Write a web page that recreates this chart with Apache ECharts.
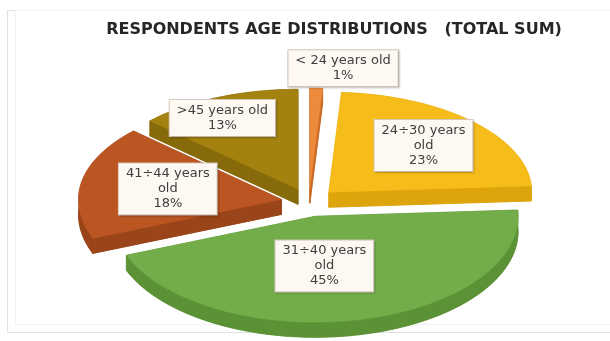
<!DOCTYPE html>
<html>
<head>
<meta charset="utf-8">
<script src="https://cdn.jsdelivr.net/npm/echarts@6/dist/echarts.min.js"></script>
<style>
  html, body { margin: 0; padding: 0; background: #ffffff; }
  #chart { width: 610px; height: 341px; }
</style>
</head>
<body>
<div id="chart"></div>
<script>
// Age groups and their share of respondents (percent)
const categories = ['< 24 years old', '24÷30 years old', '31÷40 years old', '41÷44 years old', '>45 years old'];
const shares = [1, 23, 45, 18, 13];
const titleText = 'RESPONDENTS AGE DISTRIBUTIONS   (TOTAL SUM)';

// Slice colours: top face and side wall
const topColors  = ['#ee8a3c', '#f6bd1a', '#72ad4a', '#bb5622', '#a4820f'];
const sideColors = ['#c96a25', '#dda40c', '#5c9236', '#9a4419', '#876a09'];

// Layout of the tilted pie (the far half is a little flatter than the near half)
const pie = { cx: 309, cy: 202, rx: 203, ryBack: 100, ryFront: 106, depth: 15, explode: 28 };
// Where each label sits along its slice's mid-angle (fraction of radius) plus a small nudge
const labelRadius = [1.13, 0.66, 0.48, 0.55, 0.8];
const labelNudge = [[26, -7], [0, 0], [-12, 0], [-4, 0], [-11, 2]];

const total = shares.reduce((a, b) => a + b, 0);
const rad = d => d * Math.PI / 180;
const ryAt = a => (Math.cos(rad(a)) > 0 ? pie.ryBack : pie.ryFront);

function wrapName(s) {
  if (s.length <= 14) return s;
  const k = s.lastIndexOf(' ');
  return s.slice(0, k) + '\n' + s.slice(k + 1);
}

function sliceAngles(i) {
  let start = 0;
  for (let k = 0; k < i; k++) start += shares[k] / total * 360;
  return [start, start + shares[i] / total * 360];
}

// Painting order: slices further back are drawn first
const ranks = (() => {
  const mids = shares.map((_, i) => { const a = sliceAngles(i); return (a[0] + a[1]) / 2; });
  const order = mids.map((m, i) => i).sort((p, q) => -Math.cos(rad(mids[q])) + Math.cos(rad(mids[p])));
  const r = [];
  order.forEach((idx, pos) => { r[idx] = pos; });
  return r;
})();

function renderItem(params, api) {
  const i = params.dataIndex;
  const value = api.value(0);
  const [a0, a1] = sliceAngles(i);
  const mid = (a0 + a1) / 2;
  const ox = pie.explode * Math.sin(rad(mid));
  const oy = -pie.explode * Math.cos(rad(mid)) * ryAt(mid) / pie.rx;
  const cx = pie.cx + ox, cy = pie.cy + oy;
  const pt = a => [cx + pie.rx * Math.sin(rad(a)), cy - ryAt(a) * Math.cos(rad(a))];
  const down = p => [p[0], p[1] + pie.depth];

  const steps = Math.max(2, Math.ceil((a1 - a0) / 2));
  const arc = [];
  for (let s = 0; s <= steps; s++) arc.push(pt(a0 + (a1 - a0) * s / steps));
  const corner = [cx, cy];
  const topFace = [corner].concat(arc);
  const bottomFace = topFace.map(down);
  const wall = arc.concat(arc.map(down).reverse());
  const face0 = [corner, arc[0], down(arc[0]), down(corner)];
  const face1 = [corner, arc[arc.length - 1], down(arc[arc.length - 1]), down(corner)];

  const base = ranks[i] * 10;
  const sideStyle = { fill: sideColors[i], stroke: sideColors[i], lineWidth: 0.6 };
  const children = [bottomFace, wall, face0, face1].map(p => ({
    type: 'polygon', shape: { points: p }, style: sideStyle, z2: base
  }));
  children.push({
    type: 'polygon', shape: { points: topFace },
    style: { fill: topColors[i], stroke: topColors[i], lineWidth: 0.4 }, z2: base + 1
  });

  const f = labelRadius[i];
  const lx = cx + f * pie.rx * Math.sin(rad(mid)) + labelNudge[i][0];
  const ly = cy - f * ryAt(mid) * Math.cos(rad(mid)) + labelNudge[i][1];
  children.push({
    type: 'text', x: lx, y: ly, z2: 100,
    style: {
      text: wrapName(categories[i]) + '\n' + Math.round(value / total * 100) + '%',
      fill: '#404040',
      font: '13px "DejaVu Sans"',
      lineHeight: 15,
      align: 'center',
      verticalAlign: 'middle',
      backgroundColor: '#fdf8f1',
      borderColor: '#d9cbbd',
      borderWidth: 1,
      padding: [3, 7, 3, 7],
      shadowColor: 'rgba(0,0,0,0.18)',
      shadowBlur: 2,
      shadowOffsetX: 1,
      shadowOffsetY: 1
    }
  });
  return { type: 'group', children };
}

const chart = echarts.init(document.getElementById('chart'), null, { renderer: 'canvas' });
chart.setOption({
  animation: false,
  backgroundColor: '#ffffff',
  title: {
    text: titleText,
    left: 329, top: 17, textAlign: 'center',
    textStyle: { fontFamily: 'DejaVu Sans', fontWeight: 'bold', fontSize: 16, color: '#262626' }
  },
  graphic: [
    { type: 'rect', shape: { x: 7.5, y: 10.5, width: 640, height: 322 },
      style: { fill: 'none', stroke: '#e2e2e2', lineWidth: 1 }, silent: true },
    { type: 'rect', shape: { x: 15.5, y: 10.5, width: 640, height: 314 },
      style: { fill: 'none', stroke: '#f3f3f3', lineWidth: 1 }, silent: true }
  ],
  series: [{
    type: 'custom',
    coordinateSystem: 'none',
    renderItem: renderItem,
    data: shares.map((v, i) => ({ name: categories[i], value: [v] }))
  }]
});
</script>
</body>
</html>
